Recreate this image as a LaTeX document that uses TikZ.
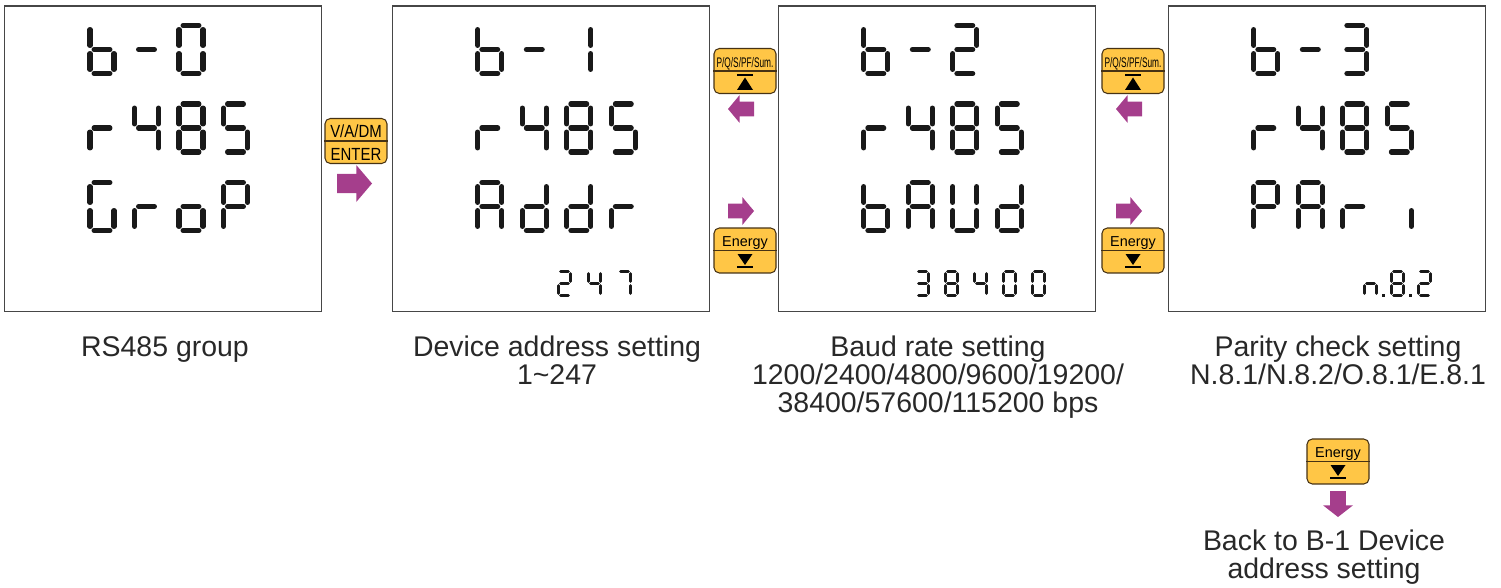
\documentclass[tikz,border=0pt]{standalone}
\usepackage{graphicx}
\usepackage{fontspec}
\setmainfont{Liberation Sans}
\usepackage{tikz}
\usetikzlibrary{calc}
\definecolor{keyyellow}{RGB}{255,198,70}
\definecolor{keyedge}{RGB}{70,50,20}
\definecolor{arrowpurple}{RGB}{165,62,140}
\definecolor{lcdframe}{RGB}{70,70,70}
\definecolor{lcdink}{RGB}{25,25,25}
\definecolor{captext}{RGB}{40,40,40}

% seven segments, origin at bottom left, y grows downwards
\newcommand{\lcdsega}{(0.17,-2) -- (0.83,-2)}
\newcommand{\lcdsegb}{(1,-1.83) -- (1,-1.17)}
\newcommand{\lcdsegc}{(1,-0.83) -- (1,-0.17)}
\newcommand{\lcdsegd}{(0.17,0) -- (0.83,0)}
\newcommand{\lcdsege}{(0,-0.17) -- (0,-0.83)}
\newcommand{\lcdsegf}{(0,-1.17) -- (0,-1.83)}
\newcommand{\lcdsegg}{(0.17,-1) -- (0.83,-1)}
\def\lcdloop#1{\ifx#1\relax\else\draw[segline] \csname lcdseg#1\endcsname;\expandafter\lcdloop\fi}
\newcommand{\lcdchar}[4]{%
  \begin{scope}[shift={(#1,#2)},#3]
    \expandafter\lcdloop#4\relax
  \end{scope}}

\begin{document}
\begin{tikzpicture}[x=0.02cm,y=-0.02cm,
  lcd/.style={draw=lcdframe,line width=0.85pt,minimum width=6.34cm,minimum height=6.11cm,inner sep=0pt},
  segline/.style={draw=lcdink,line cap=round},
  bigdigit/.style={scale=24,line width=2.9pt},
  smalldigit/.style={scale=12,line width=1.65pt},
  key/.style={draw=keyedge,fill=keyyellow,line width=0.6pt,rounded corners=3pt,minimum width=1.24cm,minimum height=0.9cm,inner sep=0pt},
  keyline/.style={draw=keyedge,line width=0.6pt},
  keytext/.style={anchor=base,inner sep=0pt,font=\fontsize{10}{12}\selectfont},
  caption/.style={anchor=north,align=center,inner sep=0pt,text=captext,font=\fontsize{16.2}{15.7}\selectfont},
  keyup/.pic={\draw[line width=1.1pt] (-8,4) -- (8,4); \fill (0,6.5) -- (8,19) -- (-8,19) -- cycle;},
  keydown/.pic={\fill (-7.5,3.5) -- (7.5,3.5) -- (0,14.5) -- cycle; \draw[line width=1.1pt] (-8,16.5) -- (8,16.5);},
  fatarrow/.pic={\fill[arrowpurple] (0,-0.26) -- (0.55,-0.26) -- (0.55,-0.5) -- (1,0) -- (0.55,0.5) -- (0.55,0.26) -- (0,0.26) -- cycle;}
]
\useasboundingbox (0,0) rectangle (1501,588);

% Screens
\node[lcd] (grop) at (163,158.75) {};
\node[lcd] (addr) at (550.8,158.75) {};
\node[lcd] (baud) at (937,158.75) {};
\node[lcd] (pari) at (1327,158.75) {};

% top row: b-0, b-1, b-2, b-3
\foreach \bx/\segs in {4.5/abcdef,392.3/bc,778.3/abdeg,1168.3/abcdg} {
  \lcdchar{\bx+85.5}{73.5}{bigdigit}{cdefg}
  \lcdchar{\bx+130}{73.5}{bigdigit}{g}
  \lcdchar{\bx+174.5}{73.5}{bigdigit}{\segs}
}

% middle row: r485 on every screen
\foreach \bx in {4.5,392.3,778.3,1168.3} {
  \foreach \i/\segs in {0/eg,1/bcfg,2/abcdefg,3/acdfg} {
    \lcdchar{\bx+85.5+\i*44.5}{152}{bigdigit}{\segs}
  }
}

% bottom row: GroP, Addr, bAUd, PAri
\foreach \i/\segs in {0/acdef,1/eg,2/cdeg,3/abefg} {\lcdchar{90+\i*44.5}{230.5}{bigdigit}{\segs}}
\foreach \i/\segs in {0/abcefg,1/bcdeg,2/bcdeg,3/eg} {\lcdchar{477.8+\i*44.5}{230.5}{bigdigit}{\segs}}
\foreach \i/\segs in {0/cdefg,1/abcefg,2/bcdef,3/bcdeg} {\lcdchar{863.8+\i*44.5}{230.5}{bigdigit}{\segs}}
\foreach \i/\segs in {0/abefg,1/abcefg,2/eg,3/c} {\lcdchar{1253.8+\i*44.5}{230.5}{bigdigit}{\segs}}

% small values: 247, 38400, n.8.2
\foreach \i/\segs in {0/abdeg,1/bcfg,2/abc} {\lcdchar{558.5+\i*30}{295.5}{smalldigit}{\segs}}
\foreach \i/\segs in {0/abcdg,1/abcdefg,2/bcfg,3/abcdef,4/abcdef} {\lcdchar{916.5+\i*29}{295.5}{smalldigit}{\segs}}
\foreach \i/\segs in {0/ceg,1/abcdefg,2/abdeg} {\lcdchar{1364.5+\i*27}{295.5}{smalldigit}{\segs}}
\foreach \dx in {1383,1410} {\fill[lcdink] (\dx-1.5,294) rectangle (\dx+1.5,297);}

% Keys
\node[key] (enter) at (356,141) {};
\draw[keyline] (enter.west) -- (enter.east);
\node[keytext] (enter-up) at ($(enter.center)+(0,-3.5)$) {\scalebox{0.85}[1]{V/A/DM}};
\node[keytext] (enter-dn) at ($(enter.center)+(0,19)$) {\scalebox{0.85}[1]{ENTER}};

\foreach \k/\x in {pqsa/745,pqsb/1133} {
  \node[key] (\k) at (\x,71) {};
  \draw[keyline] (\k.west) -- (\k.east);
  \node[keytext,font=\fontsize{7.9}{9}\selectfont] (\k-up) at ($(\k.center)+(0,-3.5)$) {\scalebox{0.6}[1]{P/Q/S/PF/Sum.}};
  \pic (\k-sym) at (\k.center) {keyup};
}

\foreach \k/\x/\y in {ena/745/250.5,enb/1133/250.5,enc/1338/461.5} {
  \node[key] (\k) at (\x,\y) {};
  \draw[keyline] (\k.west) -- (\k.east);
  \node[keytext,font=\fontsize{8.2}{9}\selectfont] (\k-up) at ($(\k.center)+(0,-4.5)$) {Energy};
  \pic (\k-sym) at (\k.center) {keydown};
}

% Arrows
\pic[xscale=35,yscale=37] (go) at (337,183.5) {fatarrow};
\pic[rotate=180,xscale=26,yscale=28] (backa) at (754,109) {fatarrow};
\pic[rotate=180,xscale=26,yscale=28] (backb) at (1142,109) {fatarrow};
\pic[xscale=26,yscale=28] (nexta) at (728,211) {fatarrow};
\pic[xscale=26,yscale=28] (nextb) at (1116,211) {fatarrow};
\pic[rotate=-90,xscale=26,yscale=30] (wrap) at (1338,491) {fatarrow};

% Captions
\node[caption] (grpcap) at (165,336) {RS485 group};
\node[caption] (addrcap) at (557,336) {Device address setting\\1\textasciitilde247};
\node[caption] (baudcap) at (938,336) {Baud rate setting\\1200/2400/4800/9600/19200/\\38400/57600/115200 bps};
\node[caption] (paricap) at (1338,336) {Parity check setting\\N.8.1/N.8.2/O.8.1/E.8.1};
\node[caption] (backcap) at (1324,530) {Back to B-1 Device\\address setting};

\end{tikzpicture}
\end{document}
